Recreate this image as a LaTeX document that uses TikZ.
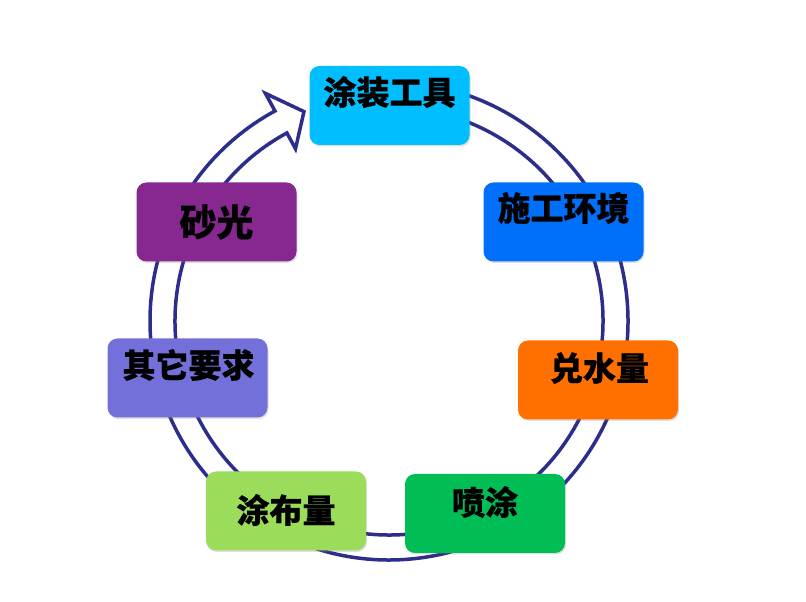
\documentclass[tikz,border=0pt]{standalone}
\usepackage{fontspec}
\usepackage{xcolor}
\setmainfont{Noto Sans CJK SC}[BoldFeatures={FakeBold=0.6}]
\usetikzlibrary{calc}
\usetikzlibrary{shadows}
\definecolor{ringblue}{RGB}{45,45,140}
\definecolor{toolcol}{RGB}{0,190,255}
\definecolor{envcol}{RGB}{0,112,250}
\definecolor{watercol}{RGB}{255,112,0}
\definecolor{spraycol}{RGB}{0,190,85}
\definecolor{coatcol}{RGB}{155,220,90}
\definecolor{othercol}{RGB}{115,112,218}
\definecolor{sandcol}{RGB}{135,40,145}
\tikzset{itembox/.style={rectangle, rounded corners=10pt,
        minimum width=160pt, minimum height=79pt,
        inner sep=0pt, fill=#1,
        drop shadow={shadow xshift=1pt, shadow yshift=-1.5pt, opacity=0.25}},
    itemtext/.style={inner sep=0pt,
        font=\fontsize{33}{40}\selectfont\bfseries}}

\begin{document}
\begin{tikzpicture}[x=1pt,y=1pt]
    \useasboundingbox (0,0) rectangle (806,602);
    \coordinate (c) at (389,281);

    % ring arrow
    \draw[ringblue, line width=3.5pt, fill=white]
    (c) ++(95:239) arc[start angle=95, end angle=-241.5, radius=239]
    -- ($(c)+(118.5:259)$) -- ($(c)+(112.1:226)$) -- ($(c)+(118.5:196)$)
    -- ($(c)+(118.5:214)$) arc[start angle=118.5, end angle=455, radius=214]
    -- cycle;

    \node[itembox=toolcol] (tools) at (389.5,496.5) {};
    \node[itemtext] (tools-t) at ([yshift=13.5pt]tools.center) {涂装工具};

    \node[itembox=envcol] (env) at (563.5,380) {};
    \node[itemtext] (env-t) at ([yshift=14pt]env.center) {施工环境};

    \node[itembox=watercol] (water) at (598,222) {};
    \node[itemtext] (water-t) at ([xshift=1.5pt,yshift=12pt]water.center) {兑水量};

    \node[itembox=spraycol] (spray) at (485,88.5) {};
    \node[itemtext] (spray-t) at ([yshift=11.5pt]spray.center) {喷涂};

    \node[itembox=coatcol] (coat) at (286,91) {};
    \node[itemtext] (coat-t) at ([yshift=1pt]coat.center) {涂布量};

    \node[itembox=othercol] (other) at (187.5,224) {};
    \node[itemtext] (other-t) at ([xshift=1pt,yshift=13pt]other.center) {其它要求};

    \node[itembox=sandcol] (sand) at (216.5,380) {};
    \node[itemtext, font=\fontsize{37}{44}\selectfont\bfseries] (sand-t)
    at (sand.center) {砂光};
\end{tikzpicture}
\end{document}
